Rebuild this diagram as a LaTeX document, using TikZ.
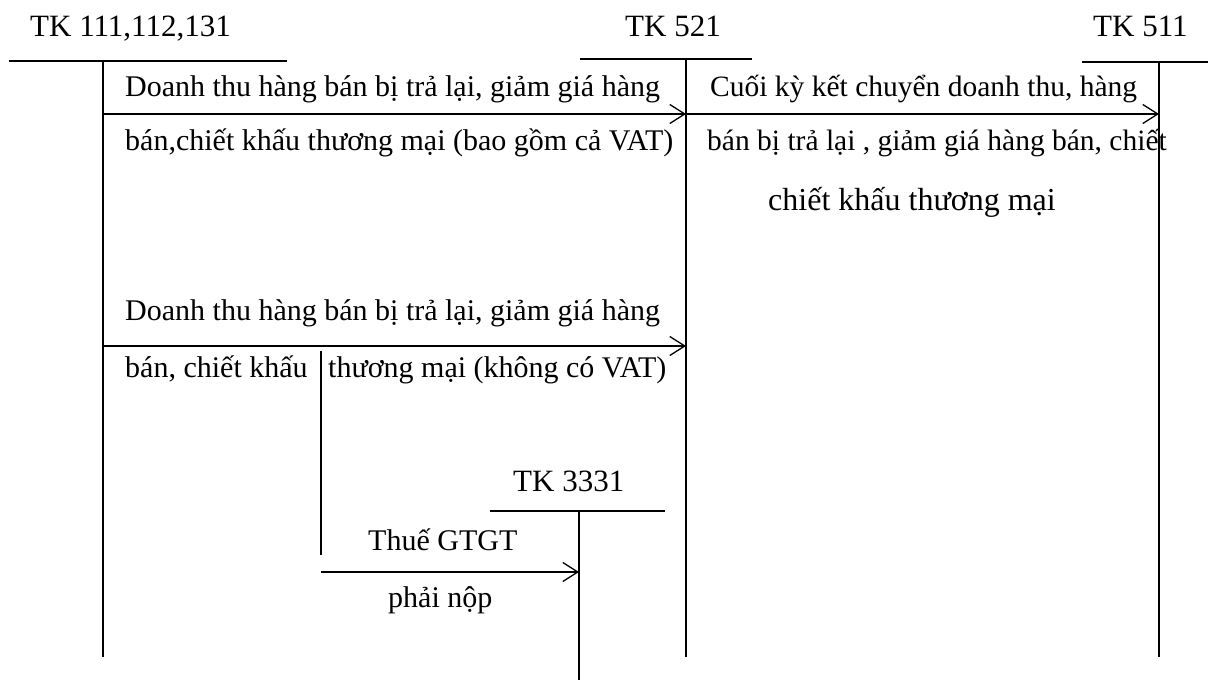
\documentclass[tikz,border=0pt]{standalone}
\usepackage{fontspec}
\setmainfont{Liberation Serif}
\usetikzlibrary{arrows.meta}
\begin{document}
\begin{tikzpicture}[x=1pt,y=-1pt,
  acct/.style={line width=1.3pt},
  flow/.style={line width=1.3pt,-{Straight Barb[length=15pt,width=19pt]}},
  title/.style={inner sep=0pt,anchor=base west,font=\fontsize{31}{36}\selectfont},
  lbl/.style={inner sep=0pt,anchor=base west,font=\fontsize{30}{35}\selectfont},
  lblr/.style={inner sep=0pt,anchor=base west,font=\fontsize{29.5}{35}\selectfont},
  big/.style={inner sep=0pt,anchor=base west,font=\fontsize{32}{38}\selectfont}]
\useasboundingbox (0,0) rectangle (1224,684);

% account titles
\node[title] (t111) at (30,37) {TK 111,112,131};
\node[title] (t521) at (625,37) {TK 521};
\node[title] (t511) at (1093,37) {TK 511};
\node[title] (t3331) at (513,492) {TK 3331};

% T-account frames
\coordinate (l1) at (9,61);   \coordinate (r1) at (287,61);
\coordinate (v1t) at (103,61); \coordinate (v1b) at (103,657);
\coordinate (l2) at (580,59); \coordinate (r2) at (752,59);
\coordinate (v2t) at (686,59); \coordinate (v2b) at (686,657);
\coordinate (l3) at (1082,62); \coordinate (r3) at (1208,62);
\coordinate (v3t) at (1159,62); \coordinate (v3b) at (1159,657);
\coordinate (l4) at (490,511); \coordinate (r4) at (665,511);
\coordinate (v4t) at (579,511); \coordinate (v4b) at (579,680);
\draw[acct] (l1) -- (r1) (v1t) -- (v1b);
\draw[acct] (l2) -- (r2) (v2t) -- (v2b);
\draw[acct] (l3) -- (r3) (v3t) -- (v3b);
\draw[acct] (l4) -- (r4) (v4t) -- (v4b);

% divider between the two parts of the second entry
\coordinate (dt) at (321,351); \coordinate (db) at (321,555);
\draw[acct] (dt) -- (db);

% entries
\coordinate (a1s) at (103,114); \coordinate (a1e) at (686,114);
\coordinate (a2e) at (1159,114);
\coordinate (a3s) at (103,346); \coordinate (a3e) at (686,346);
\coordinate (a4s) at (321,572); \coordinate (a4e) at (579,572);
\draw[flow] (a1s) -- (a1e);
\draw[flow] (a1e) -- (a2e);
\draw[flow] (a3s) -- (a3e);
\draw[flow] (a4s) -- (a4e);

% entry descriptions
\node[lbl] (e1a) at (125,97) {Doanh thu hàng bán bị trả lại, giảm giá hàng};
\node[lbl] (e1b) at (125,151) {bán,chiết khấu thương mại (bao gồm cả VAT)};
\node[lblr] (e2a) at (710,97) {Cuối kỳ kết chuyển doanh thu, hàng};
\node[lblr] (e2b) at (707,151) {bán bị trả lại , giảm giá hàng bán, chiết};
\node[big] (e2c) at (768,211) {chiết khấu thương mại};
\node[lbl] (e3a) at (125,321) {Doanh thu hàng bán bị trả lại, giảm giá hàng};
\node[lbl] (e3b) at (125,378) {bán, chiết khấu};
\node[lbl] (e3c) at (328,378) {thương mại (không có VAT)};
\node[lbl] (e4a) at (368,550) {Thuế GTGT};
\node[lbl] (e4b) at (388,607) {phải nộp};
\end{tikzpicture}
\end{document}
